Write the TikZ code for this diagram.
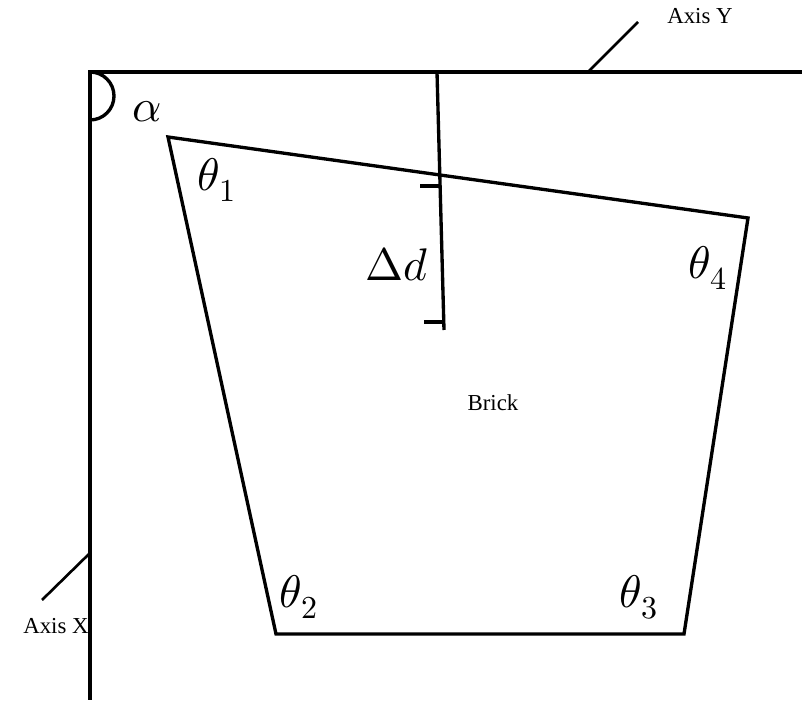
\documentclass[tikz,border=0pt]{standalone}
\usepackage{fontspec}
\setmainfont{Liberation Serif}
\usepackage{unicode-math}
\setmathfont{Latin Modern Math}
\begin{document}
\begin{tikzpicture}[x=0.02cm,y=-0.02cm,line width=1.9pt,
  lbl/.style={font=\fontsize{13}{15}\selectfont},
  ang/.style={font=\fontsize{26}{30}\selectfont}]
\useasboundingbox (0,0) rectangle (802,702);
\coordinate (o) at (90,72);
\coordinate (ye) at (802,72);
\coordinate (xe) at (90,700);
\draw (ye) -- (o) -- (xe);
\coordinate (ya) at (588,72); \coordinate (yb) at (638,22);
\draw[line width=1.5pt] (ya) -- (yb);
\node[lbl] (ly) at (700,16) {Axis Y};
\coordinate (xa) at (90,553); \coordinate (xb) at (42,600);
\draw[line width=1.5pt] (xa) -- (xb);
\node[lbl] (lx) at (56,626) {Axis X};
\draw (o) arc[start angle=-90,end angle=90,radius=24];
\node[ang] (al) at (147,112) {$\alpha$};
\coordinate (p1) at (168,137); \coordinate (p4) at (748,218);
\coordinate (p3) at (684,634); \coordinate (p2) at (276,634);
\draw (p1) -- (p4) -- (p3) -- (p2) -- cycle;
\coordinate (da) at (437,72); \coordinate (db) at (444,330);
\draw (da) -- (db);
\draw (420,186) -- (441,186);
\draw (424,322) -- (444,322);
\node[ang] (dd) at (397,264) {$\Delta d$};
\node[lbl] (br) at (493,403) {Brick};
\node[ang] (t1) at (217,180) {$\theta_1$};
\node[ang] (t4) at (708,268) {$\theta_4$};
\node[ang] (t2) at (299,597) {$\theta_2$};
\node[ang] (t3) at (639,597) {$\theta_3$};
\end{tikzpicture}
\end{document}
